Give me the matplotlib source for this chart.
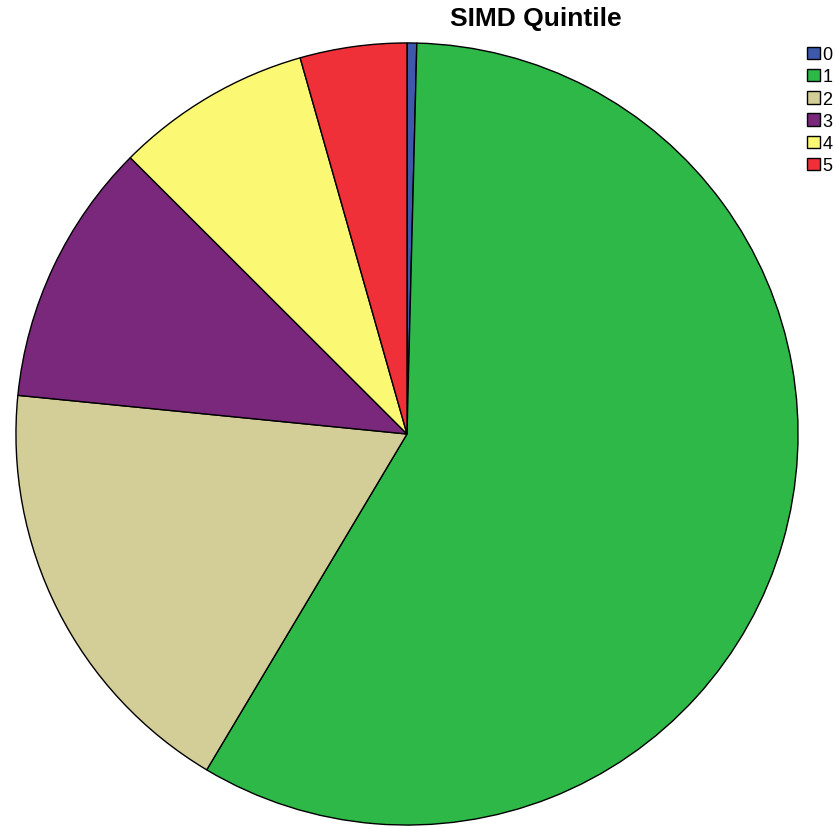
import matplotlib
matplotlib.use('Agg')
import matplotlib.pyplot as plt
from matplotlib.patches import Patch

# Data
labels = ['0', '1', '2', '3', '4', '5']
shares = [0.4, 58.1, 18.0, 10.9, 8.1, 4.4]
colors = ['#3E58AC', '#2EB848', '#D3CE97', '#79287C', '#FBF873', '#EF3038']

fig = plt.figure(figsize=(8.35, 8.28), dpi=100)
ax = fig.add_axes([14 / 835, 0 / 828, 786 / 835, 786 / 828])
ax.pie(shares, colors=colors, startangle=90, counterclock=False, radius=1,
       wedgeprops=dict(edgecolor='black', linewidth=1.0))
ax.set_xlim(-1.005, 1.005)
ax.set_ylim(-1.005, 1.005)
ax.set_aspect('equal')
ax.axis('off')

fig.text(536 / 835, 1 - 19 / 828, 'SIMD Quintile', ha='center', va='center',
         fontsize=19, fontweight='bold', family='Liberation Sans')

handles = [Patch(facecolor=c, edgecolor='black', linewidth=1.0) for c in colors]
fig.legend(handles, labels, loc='upper left', bbox_to_anchor=(791 / 835, 1 - 31 / 828),
           frameon=False, handlelength=0.7, handleheight=0.7, handletextpad=0.15,
           labelspacing=0.29, prop={'family': 'Liberation Sans', 'size': 13})

fig.savefig('out.png', dpi=100)
